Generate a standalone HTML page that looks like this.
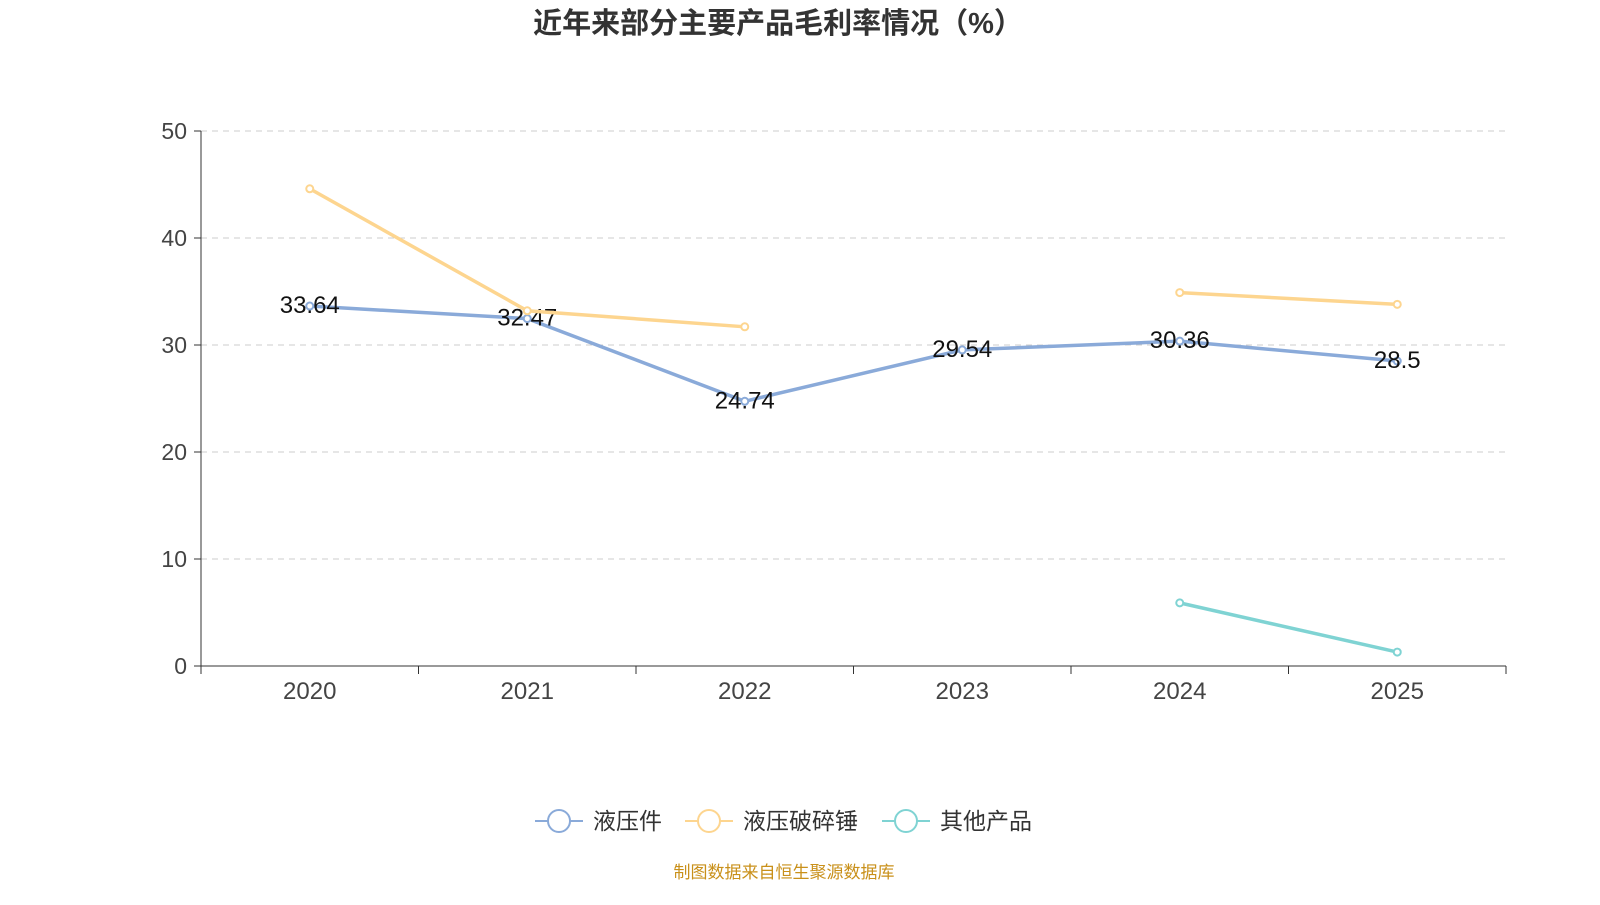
<!DOCTYPE html>
<html><head><meta charset="utf-8"><style>
body{margin:0;background:#fff;}
svg text{font-family:"Liberation Sans","Noto Sans CJK SC",sans-serif;}
</style></head><body>
<svg width="1600" height="900" xmlns="http://www.w3.org/2000/svg">
<text x="778" y="33" text-anchor="middle" font-size="29" font-weight="bold" fill="#333">近年来部分主要产品毛利率情况（%）</text>
<g id="grid"></g>
<g id="axes"></g>
<g id="series"></g>
<g id="legend"></g>
<text x="784" y="878" text-anchor="middle" font-size="17" fill="#c9901a">制图数据来自恒生聚源数据库</text>
</svg>
<script>
const categories=["2020","2021","2022","2023","2024","2025"];
const yTicks=[0,10,20,30,40,50];
const seriesNames=["液压件","液压破碎锤","其他产品"];
const hydraulicParts=[33.64,32.47,24.74,29.54,30.36,28.5];
const breakerHammer=[44.6,33.2,31.7,null,34.9,33.8];
const otherProducts=[null,null,null,null,5.9,1.3];
const colors=["#8aaad9","#fdd58f","#7fd3d3"];
const NS="http://www.w3.org/2000/svg";
const X0=201,X1=1506,Y0=666,Y1=131;
const bw=(X1-X0)/categories.length;
const xs=i=>X0+bw*(i+0.5);
const ys=v=>Y0-(v/50)*(Y0-Y1);
function mk(tag,attrs,parent,text){const e=document.createElementNS(NS,tag);for(const k in attrs)e.setAttribute(k,attrs[k]);if(text!==undefined)e.textContent=text;parent.appendChild(e);return e;}
const grid=document.getElementById('grid'),axes=document.getElementById('axes'),ser=document.getElementById('series'),leg=document.getElementById('legend');
yTicks.forEach(t=>{
 if(t>0){const l=mk('line',{x1:X0,x2:X1,y1:ys(t),y2:ys(t),stroke:'#ccc','stroke-dasharray':'6,5'},grid);
 
 }
 mk('line',{x1:X0-7,x2:X0,y1:ys(t),y2:ys(t),stroke:'#333'},axes);
 const tx=mk('text',{x:X0-14,y:ys(t)+8,'text-anchor':'end','font-size':23,fill:'#444'},axes,t);
 
 
});
mk('line',{x1:X0,x2:X0,y1:Y1,y2:Y0,stroke:'#333'},axes);
mk('line',{x1:X0,x2:X1,y1:Y0,y2:Y0,stroke:'#333'},axes);
for(let i=0;i<=categories.length;i++)mk('line',{x1:X0+bw*i,x2:X0+bw*i,y1:Y0,y2:Y0+8,stroke:'#333'},axes);
categories.forEach((c,i)=>{const t=mk('text',{x:xs(i),y:Y0+33,'text-anchor':'middle','font-size':24,fill:'#444'},axes,c);
 
 });
[hydraulicParts,breakerHammer,otherProducts].forEach((d,si)=>{
 let seg=[];const segs=[];
 d.forEach((v,i)=>{if(v===null){if(seg.length)segs.push(seg);seg=[];}else seg.push([xs(i),ys(v)]);});
 if(seg.length)segs.push(seg);
 segs.forEach(s=>{const p=mk('polyline',{points:s.map(q=>q.join(',')).join(' '),fill:'none',stroke:colors[si],'stroke-width':3.5},ser);
  
  });
 d.forEach((v,i)=>{if(v===null)return;
  const c=mk('circle',{cx:xs(i),cy:ys(v),r:3.5,fill:'#fff',stroke:colors[si],'stroke-width':2},ser);
  
  
  if(si===0){const t=mk('text',{x:xs(i),y:ys(v)+7,'text-anchor':'middle','font-size':24,fill:'#111'},ser,v);
   
   }
 });
});
const lx=[535,685,882];
seriesNames.forEach((n,i)=>{
 const g=mk('g',{},leg);
 
 
 mk('line',{x1:lx[i],x2:lx[i]+48,y1:821,y2:821,stroke:colors[i],'stroke-width':2},g);
 mk('circle',{cx:lx[i]+24,cy:821,r:11,fill:'#fff',stroke:colors[i],'stroke-width':2},g);
 mk('text',{x:lx[i]+58,y:829,'font-size':23,fill:'#333'},g,n);
});
</script>
</body></html>
